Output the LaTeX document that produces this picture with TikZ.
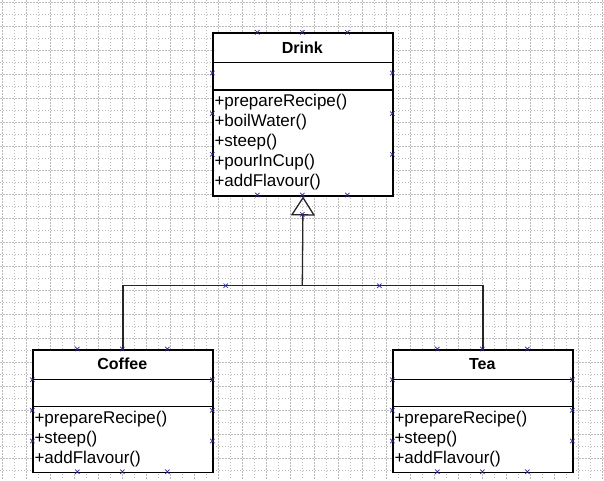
\documentclass[tikz,border=0pt]{standalone}
\usepackage{fontspec}
\setmainfont{Liberation Sans}
\usetikzlibrary{arrows.meta}
\definecolor{handlecol}{RGB}{40,40,140}
\definecolor{gridcol}{RGB}{185,185,185}
\begin{document}
\begin{tikzpicture}[x=1pt,y=-1pt,
 classbox/.style={draw=black, line width=1.5pt, minimum width=180pt, anchor=north west, inner sep=0pt, fill=white},
 titletext/.style={inner sep=0pt, font=\fontsize{16}{19}\selectfont\bfseries},
 method/.style={anchor=west, inner sep=0pt, font=\fontsize{17}{20}\selectfont},
 sepline/.style={line width=1.5pt},
 conn/.style={line width=1.3pt, draw=black!85},
 gridA/.style={gridcol, line width=0.6pt, dash pattern=on 2pt off 1pt},
 gridB/.style={gridcol, line width=0.6pt, dash pattern=on 1pt off 2pt},
 hx/.pic={\draw[handlecol, line width=0.7pt] (-2.2,-2.2)--(2.2,2.2) (-2.2,2.2)--(2.2,-2.2);}]
\useasboundingbox (0,0) rectangle (604,480);
\fill[white] (0,0) rectangle (604,480);
% grid
\foreach \i in {0,...,50} {
  \pgfmathtruncatemacro{\m}{mod(\i,2)}
  \ifnum\m=0 \draw[gridA] ({2.3+12*\i},0) -- ({2.3+12*\i},480);
  \else \draw[gridB] ({2.3+12*\i},0) -- ({2.3+12*\i},480); \fi
}
\foreach \i in {0,...,39} {
  \pgfmathtruncatemacro{\m}{mod(\i,2)}
  \ifnum\m=0 \draw[gridA] (0,{2.3+12*\i}) -- (604,{2.3+12*\i});
  \else \draw[gridB] (0,{2.3+12*\i}) -- (604,{2.3+12*\i}); \fi
}
% Drink
\node[classbox, minimum height=162.7pt] (drink) at (212.3,32.3) {};
\draw[sepline] (212.3,62.7) -- (392.3,62.7);
\draw[sepline] (212.3,90) -- (392.3,90);
\node[titletext] (drinkT) at (302.3,47.5) {Drink};
\node[method] (d1) at (214.3,101.7) {+prepareRecipe()};
\node[method] (d2) at (214.3,121.7) {+boilWater()};
\node[method] (d3) at (214.3,141.7) {+steep()};
\node[method] (d4) at (214.3,161.7) {+pourInCup()};
\node[method] (d5) at (214.3,181.7) {+addFlavour()};
% Coffee
\node[classbox, minimum height=122.7pt] (coffee) at (32.3,349) {};
\draw[sepline] (32.3,379.3) -- (212.3,379.3);
\draw[sepline] (32.3,406.7) -- (212.3,406.7);
\node[titletext] (coffeeT) at (122.3,364) {Coffee};
\node[method] (c1) at (34.3,419) {+prepareRecipe()};
\node[method] (c2) at (34.3,439) {+steep()};
\node[method] (c3) at (34.3,459) {+addFlavour()};
% Tea
\node[classbox, minimum height=122.7pt] (tea) at (392.3,349) {};
\draw[sepline] (392.3,379.3) -- (572.3,379.3);
\draw[sepline] (392.3,406.7) -- (572.3,406.7);
\node[titletext] (teaT) at (482.3,364) {Tea};
\node[method] (t1) at (394.3,419) {+prepareRecipe()};
\node[method] (t2) at (394.3,439) {+steep()};
\node[method] (t3) at (394.3,459) {+addFlavour()};
% connectors
\coordinate (j) at (302.3,285.7);
\draw[conn, -{Triangle[open, length=19pt, width=24pt]}] (j) -- (drink.south);
\draw[conn] (coffee.north) -- (coffee.north |- j) -- (tea.north |- j) -- (tea.north);
% handles
\foreach \x in {257.3,302.3,347.3} { \pic at (\x,32.3) {hx}; \pic at (\x,195) {hx}; }
\foreach \y in {73,113.6,154.3} { \pic at (212.3,\y) {hx}; \pic at (392.3,\y) {hx}; }
\pic at (302.3,214.3) {hx};
\pic at (225.7,285.7) {hx};
\pic at (379.3,285.7) {hx};
\foreach \l in {32.3,392.3} {
  \foreach \d in {45,90,135} { \pic at ({\l+\d},349) {hx}; \pic at ({\l+\d},471.7) {hx}; }
  \foreach \y in {379.7,410.3,441} { \pic at (\l,\y) {hx}; \pic at ({\l+180},\y) {hx}; }
}
\end{tikzpicture}
\end{document}
